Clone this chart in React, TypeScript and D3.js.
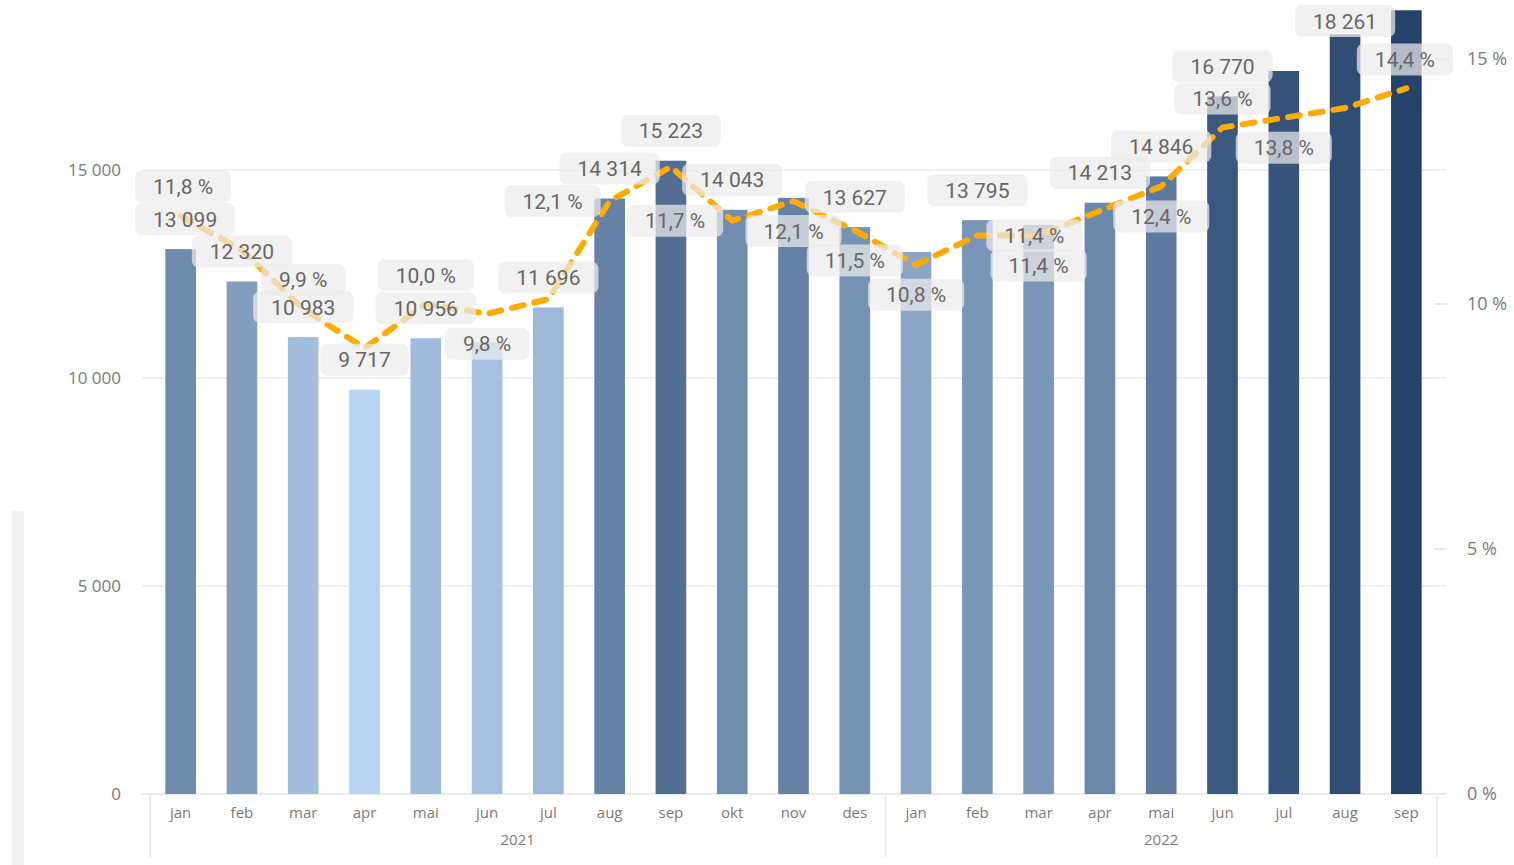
import React, { useEffect, useRef } from 'react';
import * as d3 from 'd3';

// monthly counts and share (%), 2021-01 .. 2022-09
const months = ['jan', 'feb', 'mar', 'apr', 'mai', 'jun', 'jul', 'aug', 'sep', 'okt', 'nov', 'des',
    'jan', 'feb', 'mar', 'apr', 'mai', 'jun', 'jul', 'aug', 'sep'];
const years = ['2021', '2021', '2021', '2021', '2021', '2021', '2021', '2021', '2021', '2021', '2021', '2021',
    '2022', '2022', '2022', '2022', '2022', '2022', '2022', '2022', '2022'];
const counts = [13099, 12320, 10983, 9717, 10956, 10860, 11696, 14314, 15223, 14043, 14330, 13627,
    13030, 13795, 13680, 14213, 14846, 16770, 17380, 18261, 18840];
const shares = [11.8, 11.1, 9.9, 9.1, 10.0, 9.8, 10.1, 12.1, 12.8, 11.7, 12.1, 11.5,
    10.8, 11.4, 11.4, 11.9, 12.4, 13.6, 13.8, 14.0, 14.4];
// where the share label sits relative to its point (none = hidden by overlap)
const shareLabelSpot = ['above', 'none', 'above', 'none', 'above', 'below', 'none', 'left', 'none', 'left', 'below', 'below',
    'below', 'right', 'below', 'none', 'below', 'above', 'below', 'none', 'above'];
const countTicks = [0, 5000, 10000, 15000];
const shareTicks = [0, 5, 10, 15];

const W = 1514;
const H = 865;

const nb = d3.formatLocale({ decimal: ',', thousands: ' ', grouping: [3], currency: ['', ''] });
const fmtCount = nb.format(',d');
const fmtShare = (v) => nb.format('.1f')(v) + ' %';

let ctx = null;
function textWidth(s, font) {
    if (!ctx) {
        const c = document.createElement('canvas');
        ctx = c.getContext('2d');
    }
    if (!ctx) return s.length * 11;
    ctx.font = font;
    return ctx.measureText(s).width;
}

function App() {
    const ref = useRef(null);

    useEffect(() => {
        drawChart();
    });

    function drawChart() {
        const svg = d3.select(ref.current);
        svg.selectAll('*').remove();

        const n = counts.length;
        const x = d3.scaleBand().domain(d3.range(n)).range([150, 1437]).paddingInner(0.5).paddingOuter(0.25);
        const y = d3.scaleLinear().domain([0, 15000]).range([794, 170]);
        const yR = d3.scaleLinear().domain([0, 15]).range([794, 59]);
        const color = d3.scaleLinear().domain([d3.min(shares), d3.max(shares)]).range(['#b9d3f2', '#25436a']);
        const cx = (i) => x(i) + x.bandwidth() / 2;

        const axisFont = '"Open Sans", "Segoe UI", sans-serif';
        const labelFont = 'Roboto, "DejaVu Sans", sans-serif';

        // scroll strip at the left
        svg.append('rect').attr('x', 12).attr('y', 511).attr('width', 12).attr('height', H - 511).attr('fill', '#f1f1f1');

        // gridlines
        svg.selectAll('.grid')
            .data(countTicks.filter((t) => t > 0))
            .enter()
            .append('line')
            .attr('x1', 142).attr('x2', 1446)
            .attr('y1', (d) => y(d)).attr('y2', (d) => y(d))
            .attr('stroke', '#ebebeb').attr('stroke-width', 1.5);

        svg.append('line').attr('x1', 142).attr('x2', 1446).attr('y1', 794).attr('y2', 794)
            .attr('stroke', '#e3e3e3').attr('stroke-width', 1.5);

        // left axis labels
        svg.selectAll('.yl')
            .data(countTicks)
            .enter()
            .append('text')
            .attr('x', 121).attr('y', (d) => y(d)).attr('dy', '0.36em')
            .attr('text-anchor', 'end')
            .style('font-family', axisFont).style('font-size', '17px').style('fill', '#7b7b7b')
            .text((d) => fmtCount(d));

        // right axis ticks + labels
        svg.selectAll('.yrt')
            .data(shareTicks.filter((t) => t > 0))
            .enter()
            .append('line')
            .attr('x1', 1434).attr('x2', 1447)
            .attr('y1', (d) => yR(d)).attr('y2', (d) => yR(d))
            .attr('stroke', '#e3e3e3').attr('stroke-width', 1.5);
        svg.selectAll('.yr')
            .data(shareTicks)
            .enter()
            .append('text')
            .attr('x', 1467).attr('y', (d) => yR(d)).attr('dy', '0.36em')
            .style('font-family', axisFont).style('font-size', '18px').style('fill', '#7b7b7b')
            .text((d) => d + ' %');

        // bars
        svg.selectAll('.bar')
            .data(counts)
            .enter()
            .append('rect')
            .attr('x', (_, i) => x(i))
            .attr('width', x.bandwidth())
            .attr('y', (d) => y(d))
            .attr('height', (d) => y(0) - y(d))
            .attr('fill', (_, i) => color(shares[i]));

        // x axis: months, years, separators
        svg.selectAll('.ml')
            .data(months)
            .enter()
            .append('text')
            .attr('x', (_, i) => cx(i)).attr('y', 813).attr('dy', '0.36em')
            .attr('text-anchor', 'middle')
            .style('font-family', axisFont).style('font-size', '15px').style('fill', '#7b7b7b')
            .text((d) => d);

        const groups = d3.groups(d3.range(n), (i) => years[i]);
        const step = x.step();
        const x0 = x.range()[0];
        const bounds = [];
        groups.forEach(([yr, idx]) => {
            const a = x0 + idx[0] * step;
            const b = x0 + (idx[idx.length - 1] + 1) * step;
            bounds.push(a, b);
            svg.append('text')
                .attr('x', (a + b) / 2).attr('y', 840).attr('dy', '0.36em')
                .attr('text-anchor', 'middle')
                .style('font-family', axisFont).style('font-size', '15px').style('fill', '#7b7b7b')
                .text(yr);
        });
        Array.from(new Set(bounds)).forEach((bx) => {
            svg.append('line').attr('x1', bx).attr('x2', bx).attr('y1', 795).attr('y2', 857)
                .attr('stroke', '#e6e6e6').attr('stroke-width', 1.5);
        });

        // share line
        const line = d3.line().x((_, i) => cx(i)).y((d) => yR(d));
        svg.append('path')
            .attr('d', line(shares))
            .attr('fill', 'none')
            .attr('stroke', '#ffab00')
            .attr('stroke-width', 6)
            .attr('stroke-linecap', 'round')
            .attr('stroke-dasharray', '12 11');

        // data labels
        const font = '21px ' + labelFont;
        const boxH = 32;
        const clampBox = (b) => {
            if (b.x < 135) b.x = 135;
            if (b.x + b.w > 1453) b.x = 1453 - b.w;
            if (b.y < 5) b.y = 5;
            return b;
        };
        const hits = (a, b) => {
            const ox = Math.min(a.x + a.w, b.x + b.w) - Math.max(a.x, b.x);
            const oy = Math.min(a.y + a.h, b.y + b.h) - Math.max(a.y, b.y);
            return ox > 6 && oy > 6;
        };

        const labels = [];
        const placedCounts = [];
        counts.forEach((v, i) => {
            const t = fmtCount(v);
            const w = textWidth(t, font) + 36;
            const b = clampBox({ x: cx(i) - w / 2, y: y(v) - 30 - boxH / 2, w, h: boxH, t });
            if (placedCounts.some((p) => hits(p, b))) return;
            placedCounts.push(b);
            labels.push(b);
        });

        shares.forEach((v, i) => {
            const spot = shareLabelSpot[i];
            if (spot === 'none') return;
            const t = fmtShare(v);
            const w = textWidth(t, font) + 36;
            const px = cx(i);
            const py = yR(v);
            let lx = px;
            let ly = py;
            if (spot === 'above') ly = py - 29;
            if (spot === 'below') ly = py + 30;
            if (spot === 'left') lx = px - (w / 2 + 9);
            if (spot === 'right') lx = px + (w / 2 + 9);
            labels.push(clampBox({ x: lx - w / 2, y: ly - boxH / 2, w, h: boxH, t }));
        });

        const lab = svg.selectAll('.lab')
            .data(labels)
            .enter()
            .append('g');
        lab.append('rect')
            .attr('x', (d) => d.x).attr('y', (d) => d.y)
            .attr('width', (d) => d.w).attr('height', (d) => d.h)
            .attr('rx', 7)
            .attr('fill', '#ebebeb')
            .attr('fill-opacity', 0.72);
        lab.append('text')
            .attr('x', (d) => d.x + d.w / 2).attr('y', (d) => d.y + d.h / 2).attr('dy', '0.36em')
            .attr('text-anchor', 'middle')
            .style('font-family', labelFont).style('font-size', '21px').style('fill', '#686664')
            .text((d) => d.t);
    }

    return (
        <svg ref={ref} width={W} height={H}
            style={{ position: 'absolute', left: 0, top: 0, background: '#ffffff', display: 'block' }} />
    );
}

export default App;
